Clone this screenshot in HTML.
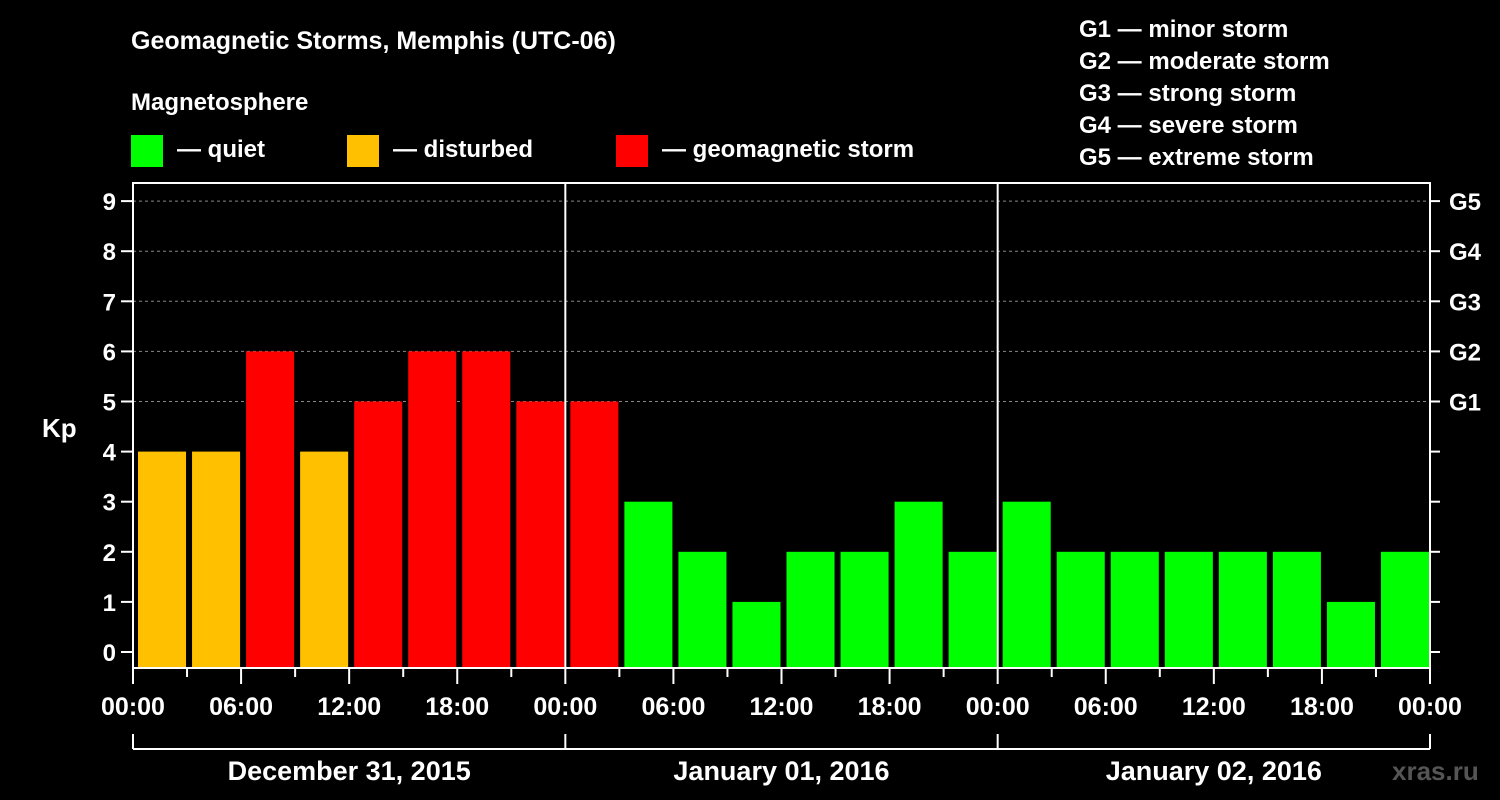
<!DOCTYPE html>
<html><head><meta charset="utf-8"><style>
html,body{margin:0;padding:0;background:#000;}
svg{display:block;font-family:"Liberation Sans",Arial,sans-serif;font-weight:bold;}
</style></head><body>
<svg id="chart" width="1500" height="800" viewBox="0 0 1500 800">
<rect x="0" y="0" width="1500" height="800" fill="#000"/>
<text x="131" y="49" fill="#fff" font-size="25">Geomagnetic Storms, Memphis (UTC-06)</text>
<text x="131" y="110" fill="#fff" font-size="24">Magnetosphere</text>
<g><rect x="131" y="135" width="32" height="32" fill="#00ff00"/><text x="177" y="157" fill="#fff" font-size="24">— quiet</text></g>
<g><rect x="347" y="135" width="32" height="32" fill="#ffc000"/><text x="393" y="157" fill="#fff" font-size="24">— disturbed</text></g>
<g><rect x="616" y="135" width="32" height="32" fill="#ff0000"/><text x="662" y="157" fill="#fff" font-size="24">— geomagnetic storm</text></g>
<g fill="#fff" font-size="24">
<text x="1079" y="37">G1 — minor storm</text>
<text x="1079" y="69">G2 — moderate storm</text>
<text x="1079" y="101">G3 — strong storm</text>
<text x="1079" y="133">G4 — severe storm</text>
<text x="1079" y="165">G5 — extreme storm</text>
</g>
<text x="42" y="437" fill="#fff" font-size="26">Kp</text>
<text x="1392" y="780" fill="#555" font-size="26">xras.ru</text>
<g id="grid"></g><g id="bars"></g><g id="axes"></g>
</svg>
<script>
const values=[4,4,6,4,5,6,6,5,5,3,2,1,2,2,3,2,3,2,2,2,2,2,1,2];
const yTicks=[0,1,2,3,4,5,6,7,8,9];
const gLabels=["G1","G2","G3","G4","G5"];
const xLabels=["00:00","06:00","12:00","18:00","00:00","06:00","12:00","18:00","00:00","06:00","12:00","18:00","00:00"];
const days=["December 31, 2015","January 01, 2016","January 02, 2016"];
const NS="http://www.w3.org/2000/svg";
const L=133,R=1430,T=183,B=668;
const slot=(R-L)/values.length;
function y(v){return 652-v*50.1;}
function x(i){return L+i*slot;}
function mk(tag,attrs,parent,txt){const e=document.createElementNS(NS,tag);for(const k in attrs)e.setAttribute(k,attrs[k]);if(txt!==undefined)e.textContent=txt;document.getElementById(parent).appendChild(e);return e;}
yTicks.forEach(v=>{
 if(v>=5){const g=mk('line',{x1:L,x2:R,y1:y(v),y2:y(v),stroke:'#888','stroke-dasharray':'3,3','stroke-width':1},'grid');
 
 }
 const t=mk('line',{x1:L-12,x2:L,y1:y(v),y2:y(v),stroke:'#fff','stroke-width':2},'axes');
 
 
 mk('line',{x1:R,x2:R+10,y1:y(v),y2:y(v),stroke:'#fff','stroke-width':2},'axes');
 const l=mk('text',{x:L-17,y:y(v)+9,fill:'#fff','font-size':24,'text-anchor':'end'},'axes',String(v));
 
 
});
gLabels.forEach((g,i)=>{
 const t=mk('text',{x:1449,y:y(5+i)+9,fill:'#fff','font-size':24},'axes',g);
 
 
});
values.forEach((v,i)=>{
 const c=v>=5?'#ff0000':(v>=4?'#ffc000':'#00ff00');
 const b=mk('rect',{x:x(i)+5,y:y(v),width:slot-6,height:B-y(v),fill:c},'bars');
 
 
});
mk('rect',{x:L,y:T,width:R-L,height:B-T,fill:'none',stroke:'#fff','stroke-width':2},'axes');
[1,2].forEach(d=>{mk('line',{x1:x(d*8),x2:x(d*8),y1:T,y2:B,stroke:'#fff','stroke-width':2},'axes');});
for(let i=0;i<=values.length;i++){
 mk('line',{x1:x(i),x2:x(i),y1:B,y2:B+(i%2==0?16:9),stroke:'#fff','stroke-width':2},'axes');
}
xLabels.forEach((s,i)=>{
 const t=mk('text',{x:x(i*2),y:715,fill:'#fff','font-size':25,'text-anchor':'middle'},'axes',s);
 
 
});
mk('line',{x1:L,x2:R,y1:749,y2:749,stroke:'#fff','stroke-width':2},'axes');
for(let d=0;d<=days.length;d++){mk('line',{x1:x(d*8),x2:x(d*8),y1:734,y2:749,stroke:'#fff','stroke-width':2},'axes');}
days.forEach((s,d)=>{
 const t=mk('text',{x:(x(d*8)+x(d*8+8))/2,y:780,fill:'#fff','font-size':27,'text-anchor':'middle'},'axes',s);
 
 
});
</script>
</body></html>
